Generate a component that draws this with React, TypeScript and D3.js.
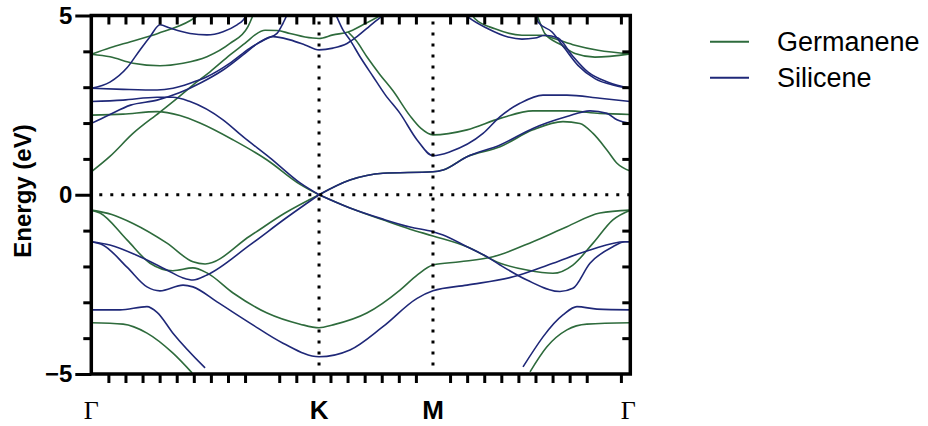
import { useEffect, useRef } from "react";
import * as d3 from "d3";

type Pt = [number, number];

// high-symmetry points along the k path (units of pi/a)
const kPointLabels = ["Γ", "K", "M", "Γ"];
const kPointPositions = [0, 1.333, 2.0, 3.155];

const yTickLabels = [5, 0, -5];
const yMinorTicks = [-4, -3, -2, -1, 1, 2, 3, 4];

const seriesNames = ["Germanene", "Silicene"];
const seriesColors = ["#2e6b3c", "#1f2878"];

// ---- Germanene bands [k, E(eV)] ----
const geUpperA: Pt[] = [[0, 3.92], [0.11, 4.1], [0.23, 4.27], [0.39, 4.5], [0.58, 4.86], [0.64, 5.05]];
const geUpperB: Pt[] = [[0, 3.92], [0.11, 3.85], [0.244, 3.67], [0.402, 3.6], [0.537, 3.67], [0.677, 3.85], [0.812, 4.22], [0.917, 4.69], [0.95, 5.05]];
const geCond1: Pt[] = [[0, 0.64], [0.109, 1.07], [0.244, 1.71], [0.4, 2.3], [0.502, 2.69], [0.595, 3.06], [0.695, 3.43], [0.812, 3.9], [0.911, 4.27], [0.958, 4.46], [1.017, 4.59], [1.087, 4.58], [1.163, 4.5], [1.251, 4.4], [1.333, 4.36], [1.415, 4.46], [1.503, 4.54], [1.59, 4.74], [1.701, 5.02]];
const geCond2: Pt[] = [[0, 2.22], [0.186, 2.25], [0.385, 2.32], [0.519, 2.21], [0.636, 2.0], [0.83, 1.53], [1.029, 0.97], [1.222, 0.29], [1.333, 0]];
const geCond3: Pt[] = [[1.333, 0], [1.514, 0.41], [1.707, 0.6], [2.0, 0.64], [2.059, 0.69], [2.199, 1.06], [2.393, 1.34], [2.585, 1.81], [2.761, 2.04], [2.86, 1.99], [2.937, 1.71], [3.018, 1.25], [3.077, 0.88], [3.155, 0.66]];
const geCond4: Pt[] = [[1.503, 4.54], [1.55, 4.3], [1.613, 3.85], [1.69, 3.35], [1.766, 2.9], [1.866, 2.2], [1.93, 1.85], [2.0, 1.67], [2.199, 1.81], [2.393, 2.13], [2.585, 2.34], [2.784, 2.34], [2.977, 2.27], [3.155, 2.24]];
const geUpperC: Pt[] = [[2.228, 5.02], [2.246, 4.91], [2.363, 4.63], [2.521, 4.45], [2.638, 4.45], [2.714, 4.35], [2.831, 4.17], [2.966, 4.03], [3.155, 3.93]];
const geUpperD: Pt[] = [[2.609, 5.02], [2.632, 4.73], [2.656, 4.49], [2.755, 4.17], [2.831, 3.94], [2.948, 3.84], [3.155, 3.93]];
const geVal1: Pt[] = [[0, -0.43], [0.12, -0.55], [0.244, -0.8], [0.443, -1.35], [0.595, -1.87], [0.666, -1.93], [0.929, -1.15], [1.134, -0.51], [1.333, 0]];
const geVal2: Pt[] = [[1.333, 0], [1.514, -0.37], [1.707, -0.7], [1.866, -0.96], [2.0, -1.15], [2.199, -1.45], [2.393, -1.91], [2.55, -2.1], [2.702, -2.19], [2.819, -1.96], [2.937, -1.35], [3.053, -0.7], [3.155, -0.43]];
const geVal3: Pt[] = [[0, -0.43], [0.051, -0.51], [0.209, -1.26], [0.344, -1.91], [0.478, -2.12], [0.595, -2.04], [0.677, -2.18], [0.83, -2.74], [1.029, -3.3], [1.222, -3.61], [1.333, -3.71], [1.415, -3.63], [1.613, -3.3], [1.807, -2.66], [1.907, -2.24], [2.0, -1.96], [2.158, -1.87], [2.352, -1.73], [2.585, -1.31], [2.784, -0.89], [2.977, -0.51], [3.155, -0.43]];
const geLowL: Pt[] = [[0, -3.57], [0.186, -3.61], [0.326, -3.86], [0.478, -4.42], [0.59, -4.97]];
const geLowR: Pt[] = [[2.568, -4.94], [2.667, -4.24], [2.784, -3.77], [2.901, -3.61], [3.155, -3.57]];

// ---- Silicene bands [k, E(eV)] ----
const siUpperA: Pt[] = [[0, 2.97], [0.109, 3.14], [0.209, 3.54], [0.285, 4.04], [0.344, 4.41], [0.402, 4.74], [0.46, 4.65], [0.578, 4.5], [0.677, 4.46], [0.771, 4.55], [0.853, 4.74], [0.888, 4.87], [0.911, 5.02]];
const siUpperB: Pt[] = [[0, 2.97], [0.186, 2.94], [0.385, 2.92], [0.478, 2.97], [0.578, 3.11], [0.677, 3.29], [0.812, 3.67], [0.929, 4.09], [1.029, 4.36], [1.087, 4.5], [1.122, 4.78], [1.146, 5.02]];
const siCond1: Pt[] = [[0, 1.99], [0.1, 2.22], [0.23, 2.5], [0.385, 2.64], [0.519, 2.85], [0.636, 3.11], [0.771, 3.48], [0.888, 3.9], [0.989, 4.27], [1.064, 4.41], [1.163, 4.32], [1.251, 4.18], [1.333, 4.04], [1.415, 4.09], [1.497, 4.22], [1.555, 4.41], [1.613, 4.64], [1.672, 4.87], [1.72, 5.05]];
const siCond2: Pt[] = [[0, 2.6], [0.186, 2.64], [0.385, 2.72], [0.478, 2.72], [0.578, 2.6], [0.771, 2.09], [0.888, 1.62], [1.046, 1.03], [1.222, 0.33], [1.333, 0]];
const siCond3: Pt[] = [[1.333, 0], [1.514, 0.41], [1.707, 0.6], [2.0, 0.64], [2.059, 0.69], [2.199, 1.06], [2.393, 1.39], [2.585, 1.85], [2.784, 2.18], [2.919, 2.34], [3.018, 2.27], [3.077, 2.09], [3.155, 1.99]];
const siCond4: Pt[] = [[1.432, 5.02], [1.473, 4.6], [1.514, 4.32], [1.573, 3.85], [1.649, 3.3], [1.719, 2.8], [1.807, 2.27], [1.907, 1.53], [2.0, 1.09], [2.1, 1.2], [2.293, 1.71], [2.393, 2.18], [2.509, 2.55], [2.644, 2.78], [2.784, 2.78], [2.977, 2.69], [3.155, 2.6]];
const siUpperC: Pt[] = [[2.604, 5.02], [2.615, 4.82], [2.697, 4.54], [2.773, 4.07], [2.849, 3.61], [2.948, 3.24], [3.065, 3.05], [3.155, 2.97]];
const siUpperD: Pt[] = [[2.19, 5.02], [2.205, 4.96], [2.322, 4.63], [2.439, 4.4], [2.521, 4.34], [2.597, 4.37], [2.656, 4.45], [2.732, 4.37], [2.814, 3.89], [2.908, 3.42], [3.025, 3.14], [3.155, 2.97]];
const siVal1: Pt[] = [[0, -1.31], [0.109, -1.4], [0.285, -1.73], [0.443, -2.1], [0.537, -2.32], [0.595, -2.38], [0.677, -2.24], [0.929, -1.4], [1.134, -0.67], [1.333, 0]];
const siVal2: Pt[] = [[1.333, 0], [1.514, -0.37], [1.707, -0.68], [1.866, -0.9], [2.0, -1.03], [2.059, -1.12], [2.199, -1.45], [2.316, -1.73], [2.393, -1.96], [2.55, -2.38], [2.743, -2.7], [2.819, -2.61], [2.919, -1.91], [3.053, -1.45], [3.124, -1.31], [3.155, -1.31]];
const siVal3: Pt[] = [[0, -1.31], [0.068, -1.4], [0.209, -2.02], [0.326, -2.57], [0.402, -2.68], [0.537, -2.52], [0.595, -2.57], [0.736, -2.99], [0.929, -3.58], [1.122, -4.14], [1.333, -4.52], [1.514, -4.33], [1.707, -3.68], [1.907, -2.89], [2.0, -2.68], [2.199, -2.52], [2.469, -2.29], [2.702, -1.91], [2.919, -1.54], [3.124, -1.31], [3.155, -1.31]];
const siLowL: Pt[] = [[0, -3.21], [0.168, -3.21], [0.326, -3.12], [0.385, -3.28], [0.478, -3.86], [0.666, -4.83]];
const siLowR: Pt[] = [[2.527, -4.8], [2.761, -3.35], [2.843, -3.12], [2.96, -3.19], [3.155, -3.21]];

const germaneneBands = [geUpperA, geUpperB, geCond1, geCond2, geCond3, geCond4, geUpperC, geUpperD, geVal1, geVal2, geVal3, geLowL, geLowR];
const siliceneBands = [siUpperA, siUpperB, siCond1, siCond2, siCond3, siCond4, siUpperC, siUpperD, siVal1, siVal2, siVal3, siLowL, siLowR];

const App = () => {
  const svgRef = useRef<SVGSVGElement>(null);

  useEffect(() => {
    const svg = d3.select(svgRef.current);
    svg.selectAll("*").remove();

    const left = 91.3, right = 630.3, top = 15.5, bottom = 374;
    const font = "'Liberation Sans', Arial, sans-serif";

    const x = d3.scaleLinear().domain([0, 3.155]).range([left, right]);
    const y = d3.scaleLinear().domain([-5, 5]).range([bottom, top]);

    svg.append("defs").append("clipPath").attr("id", "plotClip")
      .append("rect")
      .attr("x", left).attr("y", top)
      .attr("width", right - left).attr("height", bottom - top);

    const line = d3.line<Pt>()
      .x(d => x(d[0]))
      .y(d => y(d[1]))
      .curve(d3.curveMonotoneX);

    const plot = svg.append("g").attr("clip-path", "url(#plotClip)");

    // bands
    germaneneBands.forEach(b => {
      plot.append("path").attr("d", line(b)).attr("fill", "none")
        .attr("stroke", seriesColors[0]).attr("stroke-width", 1.6);
    });
    siliceneBands.forEach(b => {
      plot.append("path").attr("d", line(b)).attr("fill", "none")
        .attr("stroke", seriesColors[1]).attr("stroke-width", 1.6);
    });

    // dotted guides: Fermi level and K, M
    plot.append("line")
      .attr("x1", left + 8).attr("x2", right).attr("y1", y(0)).attr("y2", y(0))
      .attr("stroke", "#000").attr("stroke-width", 3).attr("stroke-dasharray", "3 8");
    [kPointPositions[1], kPointPositions[2]].forEach(k => {
      plot.append("line")
        .attr("x1", x(k)).attr("x2", x(k)).attr("y1", top + 6).attr("y2", bottom)
        .attr("stroke", "#000").attr("stroke-width", 3).attr("stroke-dasharray", "3 8");
    });

    // ticks
    const kTicks = d3.range(1, 32).filter(n => n % 10 !== 0).map(n => n / 10);
    const styleTicks = (g: any) => {
      g.select(".domain").remove();
      g.selectAll("line").attr("stroke", "#000").attr("stroke-width", 3);
    };
    svg.append("g").attr("transform", `translate(0,${bottom})`)
      .call(d3.axisBottom(x).tickValues(kTicks).tickSize(9).tickSizeOuter(0).tickFormat(() => ""))
      .call(styleTicks);
    svg.append("g").attr("transform", `translate(0,${top})`)
      .call(d3.axisBottom(x).tickValues(kTicks).tickSize(9).tickSizeOuter(0).tickFormat(() => ""))
      .call(styleTicks);
    svg.append("g").attr("transform", `translate(${left},0)`)
      .call(d3.axisLeft(y).tickValues(yMinorTicks).tickSize(8).tickSizeOuter(0).tickFormat(() => ""))
      .call(styleTicks);
    svg.append("g").attr("transform", `translate(${right},0)`)
      .call(d3.axisLeft(y).tickValues(yMinorTicks).tickSize(8).tickSizeOuter(0).tickFormat(() => ""))
      .call(styleTicks);
    const yMajor = svg.append("g").attr("transform", `translate(${left},0)`)
      .call(d3.axisLeft(y).tickValues(yTickLabels).tickSize(16).tickPadding(3).tickSizeOuter(0));
    yMajor.call(styleTicks);
    yMajor.selectAll("text")
      .attr("font-size", 24).attr("font-weight", "bold").attr("font-family", font).attr("fill", "#000");

    // frame
    svg.append("rect")
      .attr("x", left).attr("y", top)
      .attr("width", right - left).attr("height", bottom - top)
      .attr("fill", "none").attr("stroke", "#000").attr("stroke-width", 3.5);

    // k-point labels
    kPointLabels.forEach((lab, i) => {
      const isGamma = lab === "Γ";
      svg.append("text")
        .attr("x", x(kPointPositions[i]) - (i === 3 ? 2 : 0))
        .attr("y", isGamma ? 419 : 419)
        .attr("text-anchor", "middle")
        .attr("font-family", isGamma ? "'Liberation Serif', 'Times New Roman', serif" : font)
        .attr("font-weight", isGamma ? "normal" : "bold")
        .attr("font-size", isGamma ? 26 : 26)
        .attr("fill", "#000")
        .text(lab);
    });

    // y axis title
    svg.append("text")
      .attr("transform", "translate(30.5,191) rotate(-90)")
      .attr("text-anchor", "middle")
      .attr("font-family", font).attr("font-weight", "bold").attr("font-size", 24)
      .attr("fill", "#000")
      .text("Energy (eV)");

    // legend
    seriesNames.forEach((name, i) => {
      const ly = 41.7 + i * 36;
      svg.append("line")
        .attr("x1", 710).attr("x2", 749).attr("y1", ly).attr("y2", ly)
        .attr("stroke", seriesColors[i]).attr("stroke-width", 2);
      svg.append("text")
        .attr("x", 777).attr("y", ly + 9.6)
        .attr("font-family", font).attr("font-size", 27).attr("fill", "#000")
        .text(name);
    });
  }, []);

  return (
    <svg
      ref={svgRef}
      width={928}
      height={426}
      style={{ position: "absolute", left: 0, top: 0, background: "#fff" }}
    />
  );
};

export default App;
